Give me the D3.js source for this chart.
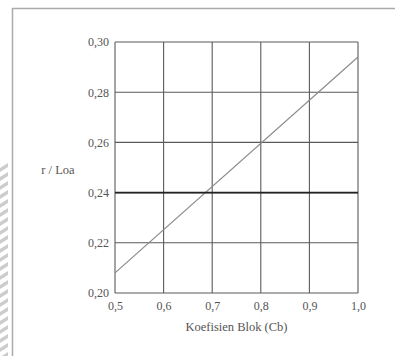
<!DOCTYPE html>
<html>
<head>
<meta charset="utf-8">
<script src="https://cdn.jsdelivr.net/npm/d3@7"></script>
<style>
  body { margin: 0; background: #fff; }
  svg { display: block; }
</style>
</head>
<body>
<svg id="root"></svg>
<script>
const xTicks = [0.5, 0.6, 0.7, 0.8, 0.9, 1.0];
const yTicks = [0.20, 0.22, 0.24, 0.26, 0.28, 0.30];
const cb = [0.5, 1.0];
const diagonal = [0.208, 0.294];
const flat = [0.24, 0.24];

const W = 395, H = 356;
const margin = { top: 42, left: 115, right: 37, bottom: 63 };
const width = W - margin.left - margin.right;
const height = H - margin.top - margin.bottom;
const serif = '"Liberation Serif", "DejaVu Serif", serif';

const svg = d3.select('#root').attr('width', W).attr('height', H);

// faded stripes on the left edge of the scan
const stripes = d3.range(0, 22);
svg.append('g').selectAll('path')
  .data(stripes)
  .enter()
  .append('path')
    .attr('d', i => `M0,${168 + i * 9} L8,${163 + i * 9} L8,${167 + i * 9} L0,${172 + i * 9}Z`)
    .attr('fill', '#ccc');

// page frame (top and left only)
svg.append('path')
  .attr('d', `M12.5,${H} L12.5,8.5 L${W},8.5`)
  .attr('fill', 'none')
  .attr('stroke', '#aaa')
  .attr('stroke-width', 1.5);

const x = d3.scaleLinear().domain([0.5, 1.0]).range([0, width]);
const y = d3.scaleLinear().domain([0.20, 0.30]).range([height, 0]);

const chart = svg.append('g')
  .attr('transform', `translate(${margin.left}, ${margin.top})`);

// grid
chart.append('g').selectAll('line')
  .data(xTicks)
  .enter()
  .append('line')
    .attr('x1', d => x(d)).attr('x2', d => x(d))
    .attr('y1', 0).attr('y2', height)
    .attr('stroke', '#5a5a5a').attr('stroke-width', 1.1);

chart.append('g').selectAll('line')
  .data(yTicks)
  .enter()
  .append('line')
    .attr('x1', 0).attr('x2', width)
    .attr('y1', d => y(d)).attr('y2', d => y(d))
    .attr('stroke', '#5a5a5a').attr('stroke-width', 1.1);

const fmt = d => d3.format(d < 0.5 ? '.2f' : '.1f')(d).replace('.', ',');

const axisX = d3.axisBottom(x).tickValues(xTicks).tickSize(0).tickPadding(8).tickFormat(fmt);
const axisY = d3.axisLeft(y).tickValues(yTicks).tickSize(0).tickPadding(6).tickFormat(fmt);

chart.append('g')
  .attr('transform', `translate(0, ${height})`)
  .call(axisX)
  .attr('font-family', serif)
  .attr('font-size', 12)
  .call(g => g.select('.domain').remove())
  .call(g => g.selectAll('text').attr('fill', '#555'));

chart.append('g')
  .call(axisY)
  .attr('font-family', serif)
  .attr('font-size', 12)
  .call(g => g.select('.domain').remove())
  .call(g => g.selectAll('text').attr('fill', '#555'));

const line = d3.line()
  .x((d, i) => x(cb[i]))
  .y(d => y(d));

chart.append('path')
  .datum(diagonal)
  .attr('d', line)
  .attr('fill', 'none')
  .attr('stroke', '#8a8a8a')
  .attr('stroke-width', 1.2);

chart.append('path')
  .datum(flat)
  .attr('d', line)
  .attr('fill', 'none')
  .attr('stroke', '#222')
  .attr('stroke-width', 1.6);

// labels
svg.append('text')
  .attr('x', 58).attr('y', 174)
  .attr('text-anchor', 'middle')
  .style('font-family', serif)
  .style('font-size', '12.5px')
  .attr('fill', '#555')
  .text('r / Loa');

svg.append('text')
  .attr('x', margin.left + width / 2).attr('y', 331)
  .attr('text-anchor', 'middle')
  .style('font-family', serif)
  .style('font-size', '12.5px')
  .attr('fill', '#555')
  .text('Koefisien Blok (Cb)');
</script>
</body>
</html>
